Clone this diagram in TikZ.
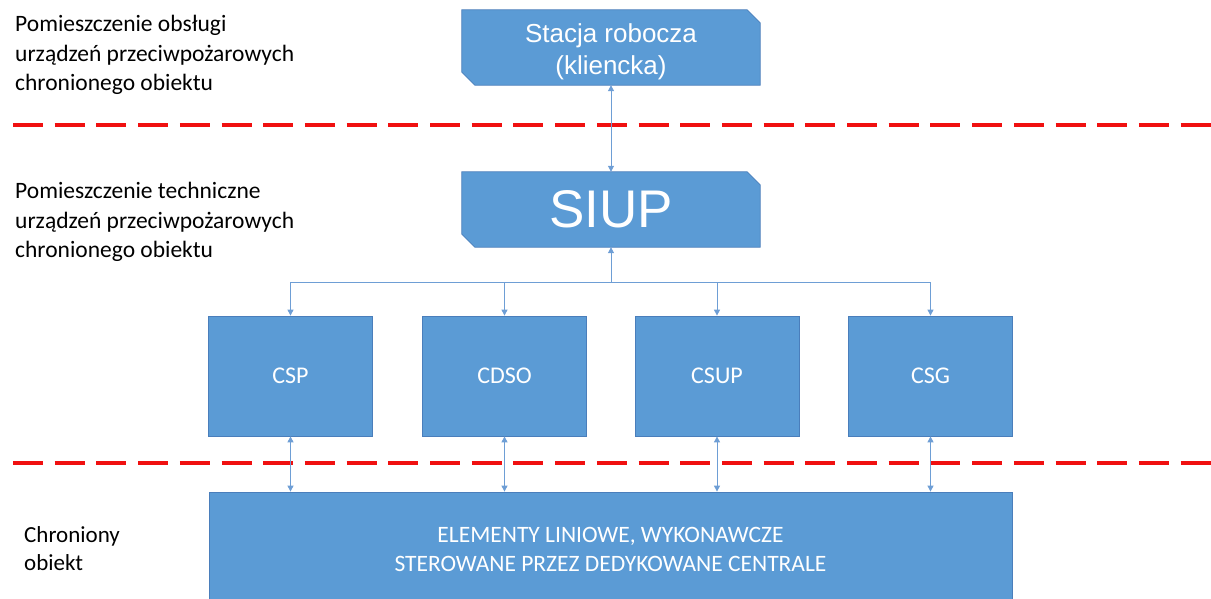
\documentclass[tikz,border=0pt]{standalone}
\usepackage{fontspec}
\setmainfont{Carlito}
\newfontfamily\arialfont{Liberation Sans}
\usepackage{xcolor}
\usetikzlibrary{arrows.meta,positioning,calc,backgrounds}
\definecolor{boxblue}{HTML}{5B9BD5}
\definecolor{boxedge}{HTML}{4A7EBB}
\definecolor{linkblue}{HTML}{6E9ED5}
\definecolor{sepred}{HTML}{F01010}

% scieta ramka wokol wezla
\newcommand{\snipframe}[1]{%
  \begin{scope}[on background layer]
    \draw[snipline] (#1.north west) -- ($(#1.north east)+(-13,0)$) -- ($(#1.north east)+(0,13)$)
      -- (#1.south east) -- ($(#1.south west)+(13,0)$) -- ($(#1.south west)+(0,-13)$) -- cycle;
  \end{scope}}

\begin{document}
\begin{tikzpicture}[
  x=1pt, y=-1pt,
  cbox/.style={rectangle, draw=boxedge, fill=boxblue, line width=0.8pt, text=white, align=center, inner sep=0pt},
  snipbox/.style={rectangle, text=white, align=center, inner sep=0pt, minimum width=298pt, minimum height=75pt},
  snipline/.style={draw=boxedge, fill=boxblue, line width=0.8pt},
  unit/.style={cbox, minimum width=164pt, minimum height=120pt, font=\fontsize{24}{28}\selectfont},
  zone/.style={anchor=north west, align=left, inner sep=0pt, font=\fontsize{23.5}{29.5}\selectfont},
  link/.style={draw=linkblue, line width=1pt},
  arr/.style={link, -{Triangle[length=6pt, width=6pt]}},
  arrr/.style={link, {Triangle[length=6pt, width=6pt]}-{Triangle[length=6pt, width=6pt]}},
  sep/.style={draw=sepred, line width=4pt, dash pattern=on 30pt off 11.7pt}
]
\useasboundingbox (0,0) rectangle (1211,599);

% strefy
\node[zone] (zone1) at (15,15) {Pomieszczenie obsługi\\urządzeń przeciwpożarowych\\chronionego obiektu};
\node[zone] (zone2) at (15,182) {Pomieszczenie techniczne\\urządzeń przeciwpożarowych\\chronionego obiektu};
\node[zone, font=\fontsize{23}{28}\selectfont] (zone3) at (24,526) {Chroniony\\obiekt};

\draw[sep] (13,125) -- (1211,125);
\draw[sep] (13,463) -- (1211,463);

% stanowiska
\node[snipbox] (stacja) at (611,47.5) {};
\node[text=white, align=center, inner sep=0pt, font=\arialfont\fontsize{26}{32}\selectfont] (stacjatxt) at (611,52) {Stacja robocza\\(kliencka)};
\snipframe{stacja}
\node[snipbox, font=\arialfont\fontsize{53}{60}\selectfont] (siup) at (611,209.5) {SIUP};
\snipframe{siup}

\draw[arrr] (stacja.south) -- (siup.north);

% centrale
\node[unit] (csp) at (290.5,376) {CSP};
\node[unit] (cdso) at (504.5,376) {CDSO};
\node[unit] (csup) at (717,376) {CSUP};
\node[unit] (csg) at (930.5,376) {CSG};

\coordinate (bus) at (611,282);
\draw[arr] (bus) -- (siup.south);
\draw[link] (csp.north |- bus) -- (csg.north |- bus);
\foreach \c in {csp,cdso,csup,csg}
  \draw[arr] (\c.north |- bus) -- (\c.north);

% elementy
\node[cbox, minimum width=803pt, minimum height=107pt] (elem) at (610.5,545.5) {};
\node[text=white, align=center, inner sep=0pt, font=\fontsize{23.5}{29}\selectfont] (elemtxt) at (610.5,549) {ELEMENTY LINIOWE, WYKONAWCZE\\STEROWANE PRZEZ DEDYKOWANE CENTRALE};

\foreach \c in {csp,cdso,csup,csg}
  \draw[arrr] (\c.south) -- (\c.south |- elem.north);

\end{tikzpicture}
\end{document}
